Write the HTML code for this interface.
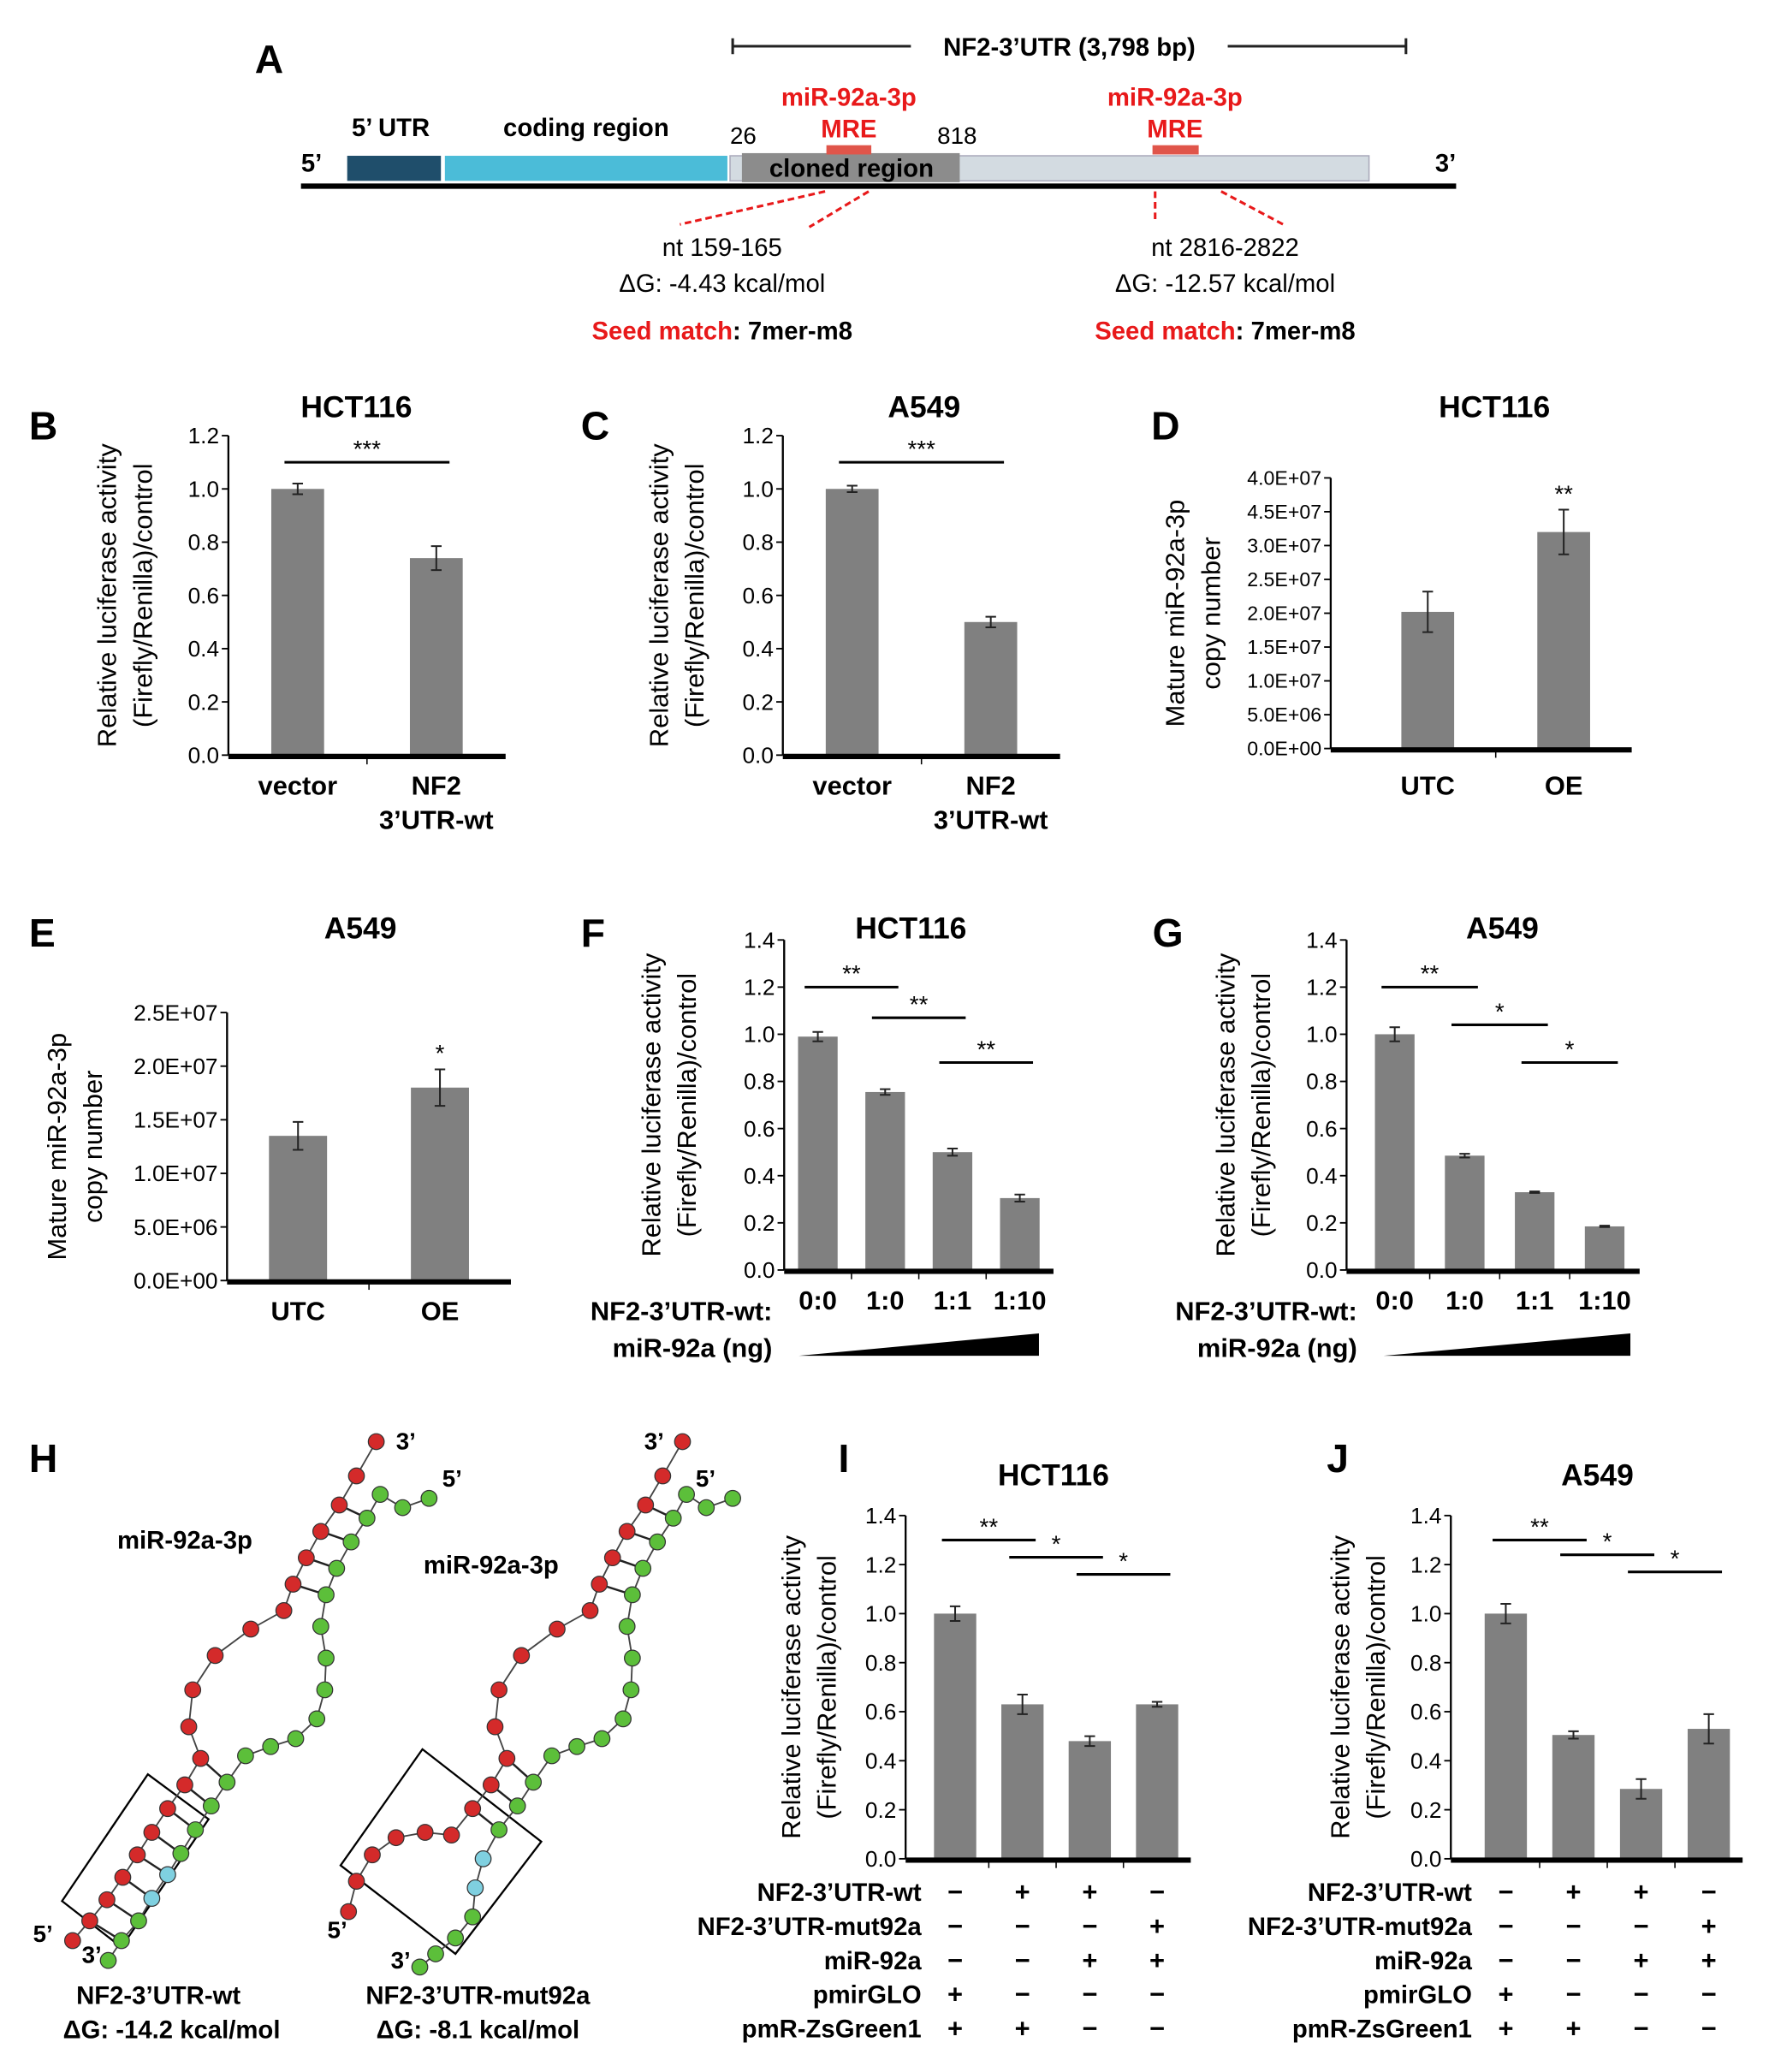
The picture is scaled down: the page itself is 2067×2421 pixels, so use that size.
<!DOCTYPE html>
<html><head><meta charset="utf-8"><style>
html,body{margin:0;padding:0;background:#fff}
svg{display:block}
text{font-family:"Liberation Sans",Arial,sans-serif}
</style></head><body>
<svg id="fig" xmlns="http://www.w3.org/2000/svg" width="2067" height="2421" viewBox="0 0 1340 1569.5" preserveAspectRatio="none">
<rect width="1340" height="1570" fill="#fff"/>
<g>
<text x="193" y="55" font-size="30" font-weight="bold">A</text>
<line x1="555" y1="35" x2="690" y2="35" stroke="#222" stroke-width="2"/>
<line x1="930" y1="35" x2="1065" y2="35" stroke="#222" stroke-width="2"/>
<line x1="555" y1="29" x2="555" y2="41" stroke="#222" stroke-width="2"/>
<line x1="1065" y1="29" x2="1065" y2="41" stroke="#222" stroke-width="2"/>
<text x="810" y="42" font-size="19" font-weight="bold" text-anchor="middle">NF2-3’UTR (3,798 bp)</text>
<rect x="263" y="118" width="71" height="19" fill="#1f4e6b"/>
<rect x="337" y="118" width="214" height="19" fill="#4bbcd8"/>
<rect x="553" y="118" width="484" height="19" fill="#d3dbe1" stroke="#aab" stroke-width="1"/>
<rect x="562" y="116" width="165" height="22" fill="#8c8c8c"/>
<text x="645" y="134" font-size="19" font-weight="bold" text-anchor="middle">cloned region</text>
<line x1="228" y1="141" x2="1103" y2="141" stroke="#000" stroke-width="4"/>
<rect x="626" y="110" width="34" height="7" fill="#e0554a"/>
<rect x="873" y="110" width="35" height="7" fill="#e0554a"/>
<text x="643" y="80" font-size="19" font-weight="bold" fill="#e8191a" text-anchor="middle">miR-92a-3p</text>
<text x="643" y="104" font-size="19" font-weight="bold" fill="#e8191a" text-anchor="middle">MRE</text>
<text x="890" y="80" font-size="19" font-weight="bold" fill="#e8191a" text-anchor="middle">miR-92a-3p</text>
<text x="890" y="104" font-size="19" font-weight="bold" fill="#e8191a" text-anchor="middle">MRE</text>
<text x="296" y="103" font-size="19" font-weight="bold" text-anchor="middle">5’ UTR</text>
<text x="444" y="103" font-size="19" font-weight="bold" text-anchor="middle">coding region</text>
<text x="563" y="109" font-size="18" text-anchor="middle">26</text>
<text x="725" y="109" font-size="18" text-anchor="middle">818</text>
<text x="236" y="130" font-size="19" font-weight="bold" text-anchor="middle">5’</text>
<text x="1095" y="130" font-size="19" font-weight="bold" text-anchor="middle">3’</text>
<g stroke="#e8191a" stroke-width="2" stroke-dasharray="5,3">
<line x1="625" y1="145" x2="515" y2="170"/><line x1="658" y1="145" x2="613" y2="172"/>
<line x1="875" y1="145" x2="875" y2="168"/><line x1="925" y1="145" x2="972" y2="170"/>
</g>
<g font-size="19" text-anchor="middle">
<text x="547" y="194">nt 159-165</text><text x="547" y="221">ΔG: -4.43 kcal/mol</text>
<text x="928" y="194">nt 2816-2822</text><text x="928" y="221">ΔG: -12.57 kcal/mol</text>
<text x="547" y="257" font-weight="bold"><tspan fill="#e8191a">Seed match</tspan>: 7mer-m8</text>
<text x="928" y="257" font-weight="bold"><tspan fill="#e8191a">Seed match</tspan>: 7mer-m8</text>
</g>
</g>
<g id="charts"></g>
<g id="panelH">
<text x="22" y="1115" font-size="30" font-weight="bold">H</text>
<text x="140" y="1173" font-size="19" font-weight="bold" text-anchor="middle">miR-92a-3p</text>
<text x="372" y="1192" font-size="19" font-weight="bold" text-anchor="middle">miR-92a-3p</text>
<text x="120" y="1518" font-size="19" font-weight="bold" text-anchor="middle">NF2-3’UTR-wt</text>
<text x="130" y="1544" font-size="19" font-weight="bold" text-anchor="middle">ΔG: -14.2 kcal/mol</text>
<text x="362" y="1518" font-size="19" font-weight="bold" text-anchor="middle">NF2-3’UTR-mut92a</text>
<text x="362" y="1544" font-size="19" font-weight="bold" text-anchor="middle">ΔG: -8.1 kcal/mol</text>
<g font-size="18" font-weight="bold">
<text x="300" y="1098">3’</text><text x="335" y="1126">5’</text><text x="25" y="1471">5’</text><text x="62" y="1487">3’</text>
<text x="488" y="1098">3’</text><text x="527" y="1126">5’</text><text x="248" y="1468">5’</text><text x="296" y="1491">3’</text>
</g>
<polygon points="47,1440 112,1344 158,1378 92,1475" fill="none" stroke="#000" stroke-width="1.5"/>
<polygon points="258,1413 320,1325 410,1395 345,1480" fill="none" stroke="#000" stroke-width="1.5"/>
</g>
</svg>
<script>
const catsB = ["vector","NF2|3’UTR-wt"]; const valsB = [1.0, 0.74]; const errB = [0.02, 0.045];
const catsC = ["vector","NF2|3’UTR-wt"]; const valsC = [1.0, 0.50]; const errC = [0.012, 0.02];
const catsD = ["UTC","OE"]; const valsD = [2.02e7, 3.2e7]; const errD = [0.3e7, 0.33e7];
const ticksD = ["0.0E+00","5.0E+06","1.0E+07","1.5E+07","2.0E+07","2.5E+07","3.0E+07","4.5E+07","4.0E+07"];
const catsE = ["UTC","OE"]; const valsE = [1.35e7, 1.8e7]; const errE = [0.13e7, 0.17e7];
const ticksE = ["0.0E+00","5.0E+06","1.0E+07","1.5E+07","2.0E+07","2.5E+07"];
const catsF = ["0:0","1:0","1:1","1:10"]; const valsF = [0.99, 0.755, 0.50, 0.305]; const errF = [0.02, 0.012, 0.015, 0.015];
const catsG = ["0:0","1:0","1:1","1:10"]; const valsG = [1.0, 0.485, 0.33, 0.185]; const errG = [0.03, 0.008, 0.003, 0.003];
const valsI = [1.0, 0.63, 0.48, 0.63]; const errI = [0.03, 0.04, 0.02, 0.01];
const valsJ = [1.0, 0.505, 0.285, 0.53]; const errJ = [0.04, 0.015, 0.04, 0.06];
const ticks12 = ["0.0","0.2","0.4","0.6","0.8","1.0","1.2"];
const ticks14 = ["0.0","0.2","0.4","0.6","0.8","1.0","1.2","1.4"];
const sigB = [[0,1,1.1,"***"]]; const sigC = [[0,1,1.1,"***"]];
const sigF = [[0,1,1.2,"**"],[1,2,1.07,"**"],[2,3,0.88,"**"]];
const sigG = [[0,1,1.2,"**"],[1,2,1.04,"*"],[2,3,0.88,"*"]];
const sigI = [[0,1,1.3,"**"],[1,2,1.23,"*"],[2,3,1.16,"*"]];
const sigJ = [[0,1,1.3,"**"],[1,2,1.24,"*"],[2,3,1.17,"*"]];
const rowLabels = ["NF2-3’UTR-wt","NF2-3’UTR-mut92a","miR-92a","pmirGLO","pmR-ZsGreen1"];
const rowSigns = [["−","+","+","−"],["−","−","−","+"],["−","−","+","+"],["+","−","−","−"],["+","+","−","−"]];

const NS = "http://www.w3.org/2000/svg";
const root = document.getElementById('charts');
function mk(tag, attrs, parent, txt){ const e=document.createElementNS(NS,tag); for(const k in attrs) e.setAttribute(k,attrs[k]); if(txt!==undefined) e.textContent=txt; (parent||root).appendChild(e); return e; }

function chart(o){
  const g = mk('g',{});
  
  
  const ax = o.ax !== undefined ? o.ax : o.x0;
  const ys = v => o.yBot - (v - 0)/(o.max) * (o.yBot - o.yTop);
  const band = (o.xEnd - o.x0)/o.vals.length;
  const xc = i => o.x0 + (i+0.5)*band;
  const L = mk('text',{x:o.lx,y:o.ly,'font-size':30,'font-weight':'bold'},g,o.letter);
  
  
  const T = mk('text',{x:o.tx,y:o.ty,'font-size':23,'font-weight':'bold','text-anchor':'middle'},g,o.title);
  
  
  const n = o.ticks.length-1;
  const tfs = o.tickSize || 17;
  o.ticks.forEach((t,i)=>{
    const y = o.yBot - i/n*(o.yBot-o.yTop);
    mk('line',{x1:ax-5,y1:y,x2:ax,y2:y,stroke:'#000','stroke-width':1.2},g);
    const tl = mk('text',{x:ax-7,y:y+tfs*0.35,'font-size':tfs,'text-anchor':'end'},g,t);
    
    
  });
  mk('line',{x1:ax,y1:o.yTop,x2:ax,y2:o.yBot,stroke:'#000','stroke-width':1.5},g);
  o.vals.forEach((v,i)=>{
    const b = mk('rect',{x:xc(i)-o.bw/2,y:ys(v),width:o.bw,height:o.yBot-ys(v),fill:'#808080'},g);
    
    
    const e=o.errs[i], x=xc(i);
    mk('path',{d:`M${x},${ys(v+e)}V${ys(v-e)}M${x-4},${ys(v+e)}H${x+4}M${x-4},${ys(v-e)}H${x+4}`,stroke:'#222','stroke-width':1.3,fill:'none'},g);
    if(o.stars && o.stars[i]) mk('text',{x:x,y:ys(v+e)-6,'font-size':18,'text-anchor':'middle'},g,o.stars[i]);
  });
  mk('line',{x1:ax,y1:o.yBot+1,x2:o.xEnd,y2:o.yBot+1,stroke:'#000','stroke-width':4},g);
  for(let i=1;i<o.vals.length;i++) mk('line',{x1:o.x0+i*band,y1:o.yBot,x2:o.x0+i*band,y2:o.yBot+7,stroke:'#000','stroke-width':1},g);
  const co = o.catOff || 30;
  if(o.cats) o.cats.forEach((c,i)=>{
    c.split('|').forEach((s,k)=>{
      const ct = mk('text',{x:xc(i),y:o.yBot+co+k*26,'font-size':20,'font-weight':'bold','text-anchor':'middle'},g,s);
      
      
    });
  });
  (o.sig||[]).forEach(s=>{
    const y = ys(s[2]);
    mk('line',{x1:xc(s[0])-10,y1:y,x2:xc(s[1])+10,y2:y,stroke:'#000','stroke-width':2},g);
    mk('text',{x:(xc(s[0])+xc(s[1]))/2,y:y-4,'font-size':18,'text-anchor':'middle'},g,s[3]);
  });
  const cy=(o.yTop+o.yBot)/2;
  o.ytitle.forEach((s,k)=>{
    const yt = mk('text',{x:o.ytx+k*27,y:cy,'font-size':20,'text-anchor':'middle',transform:`rotate(-90 ${o.ytx+k*27} ${cy})`},g,s);
    
    
  });
  return {g,xc};
}
const lucT = ["Relative luciferase activity","(Firefly/Renilla)/control"];
const copT = ["Mature miR-92a-3p","copy number"];
chart({name:'chart-b',letter:'B',lx:22,ly:333,title:'HCT116',tx:270,ty:316,x0:173,xEnd:383,yTop:330,yBot:572,max:1.2,ticks:ticks12,vals:valsB,errs:errB,cats:catsB,bw:40,sig:sigB,ytitle:lucT,ytx:88});
chart({name:'chart-c',letter:'C',lx:440,ly:333,title:'A549',tx:700,ty:316,x0:593,xEnd:803,yTop:330,yBot:572,max:1.2,ticks:ticks12,vals:valsC,errs:errC,cats:catsC,bw:40,sig:sigC,ytitle:lucT,ytx:506});
chart({name:'chart-d',letter:'D',lx:872,ly:333,title:'HCT116',tx:1132,ty:316,ax:1008,x0:1030,xEnd:1236,yTop:362,yBot:567,max:4e7,ticks:ticksD,tickSize:15,vals:valsD,errs:errD,cats:catsD,bw:40,stars:["","**"],ytitle:copT,ytx:897,catOff:35});
chart({name:'chart-e',letter:'E',lx:22,ly:717,title:'A549',tx:273,ty:711,x0:172,xEnd:387,yTop:767,yBot:970,max:2.5e7,ticks:ticksE,vals:valsE,errs:errE,cats:catsE,bw:44,stars:["","*"],ytitle:copT,ytx:50});
chart({name:'chart-f',letter:'F',lx:440,ly:717,title:'HCT116',tx:690,ty:711,x0:594,xEnd:798,yTop:712,yBot:962,max:1.4,ticks:ticks14,vals:valsF,errs:errF,cats:catsF,bw:30,sig:sigF,ytitle:lucT,ytx:500});
chart({name:'chart-g',letter:'G',lx:873,ly:717,title:'A549',tx:1138,ty:711,ax:1020,x0:1030,xEnd:1242,yTop:712,yBot:962,max:1.4,ticks:ticks14,vals:valsG,errs:errG,cats:catsG,bw:30,sig:sigG,ytitle:lucT,ytx:935});
const cI = chart({name:'chart-i',letter:'I',lx:635,ly:1115,title:'HCT116',tx:798,ty:1125,ax:686,x0:698,xEnd:902,yTop:1148,yBot:1408,max:1.4,ticks:ticks14,vals:valsI,errs:errI,bw:32,sig:sigI,ytitle:lucT,ytx:606});
const cJ = chart({name:'chart-j',letter:'J',lx:1005,ly:1115,title:'A549',tx:1210,ty:1125,ax:1099,x0:1115,xEnd:1320,yTop:1148,yBot:1408,max:1.4,ticks:ticks14,vals:valsJ,errs:errJ,bw:32,sig:sigJ,ytitle:lucT,ytx:1022});
[[585,605,787],[1028,1048,1235]].forEach(p=>{
  mk('text',{x:p[0],y:1000,'font-size':20,'font-weight':'bold','text-anchor':'end'},root,'NF2-3’UTR-wt:');
  mk('text',{x:p[0],y:1028,'font-size':20,'font-weight':'bold','text-anchor':'end'},root,'miR-92a (ng)');
  const w = mk('polygon',{points:`${p[1]},1027 ${p[2]},1010 ${p[2]},1027`,fill:'#000'});
  
  
});
[[cI,698],[cJ,1115]].forEach(([c,rx])=>{
  rowLabels.forEach((lab,r)=>{
    const y = 1440 + r*25.8;
    const t = mk('text',{x:rx,y:y,'font-size':19,'font-weight':'bold','text-anchor':'end'},root,lab);
    
    
    rowSigns[r].forEach((s,i)=>mk('text',{x:c.xc(i),y:y,'font-size':20,'font-weight':'bold','text-anchor':'middle'},root,s));
  });
});
const H = document.getElementById('panelH');
const redL = [[285,1092],[270,1118],[257,1140],[243,1160],[232,1180],[222,1200],[215,1220],[190,1234],[163,1254],[146,1280],[143,1308],[152,1332],[140,1352],[127,1370],[115,1388],[104,1405],[93,1422],[81,1439],[68,1455],[55,1470]];
const grnL = [[325,1135],[305,1142],[288,1132],[278,1150],[266,1168],[255,1188],[247,1208],[243,1232],[247,1256],[246,1280],[240,1302],[224,1317],[205,1323],[186,1330],[172,1350],[160,1368],[148,1386],[137,1404],[127,1420],[115,1438],[105,1455],[92,1470],[82,1485]];
const redR = [[517,1092],[502,1118],[489,1140],[475,1160],[464,1180],[454,1200],[447,1220],[422,1234],[395,1254],[378,1280],[375,1308],[384,1332],[372,1352],[358,1370],[342,1390],[322,1388],[300,1392],[282,1405],[270,1425],[264,1448]];
const grnR = [[555,1135],[535,1142],[520,1132],[510,1150],[498,1168],[487,1188],[479,1208],[475,1232],[479,1256],[478,1280],[472,1302],[456,1317],[437,1323],[418,1330],[404,1350],[392,1368],[378,1386],[366,1408],[360,1430],[358,1452],[345,1468],[330,1480],[318,1490]];
function strand(pts, col, cyanIdx){
  mk('polyline',{points:pts.map(p=>p.join(',')).join(' '),fill:'none',stroke:'#444','stroke-width':1.2},H);
  pts.forEach((p,i)=>mk('circle',{cx:p[0],cy:p[1],r:6,fill:(cyanIdx.includes(i)?'#7fd0e0':col),stroke:'#333','stroke-width':0.8},H));
}
function pairs(a,b,idx){ idx.forEach(([i,j])=>mk('line',{x1:a[i][0],y1:a[i][1],x2:b[j][0],y2:b[j][1],stroke:'#222','stroke-width':1.6},H)); }
pairs(redL,grnL,[[2,3],[3,4],[4,5],[5,6],[11,14],[12,15],[13,16],[14,17],[15,18],[16,19],[17,20],[18,21]]);
pairs(redR,grnR,[[2,3],[3,4],[4,5],[5,6],[11,14],[12,15],[13,16]]);
strand(redL,'#d42a2a',[]); strand(grnL,'#5cbf3a',[18,19]);
strand(redR,'#d42a2a',[]); strand(grnR,'#5cbf3a',[17,18]);
</script>
</body></html>
